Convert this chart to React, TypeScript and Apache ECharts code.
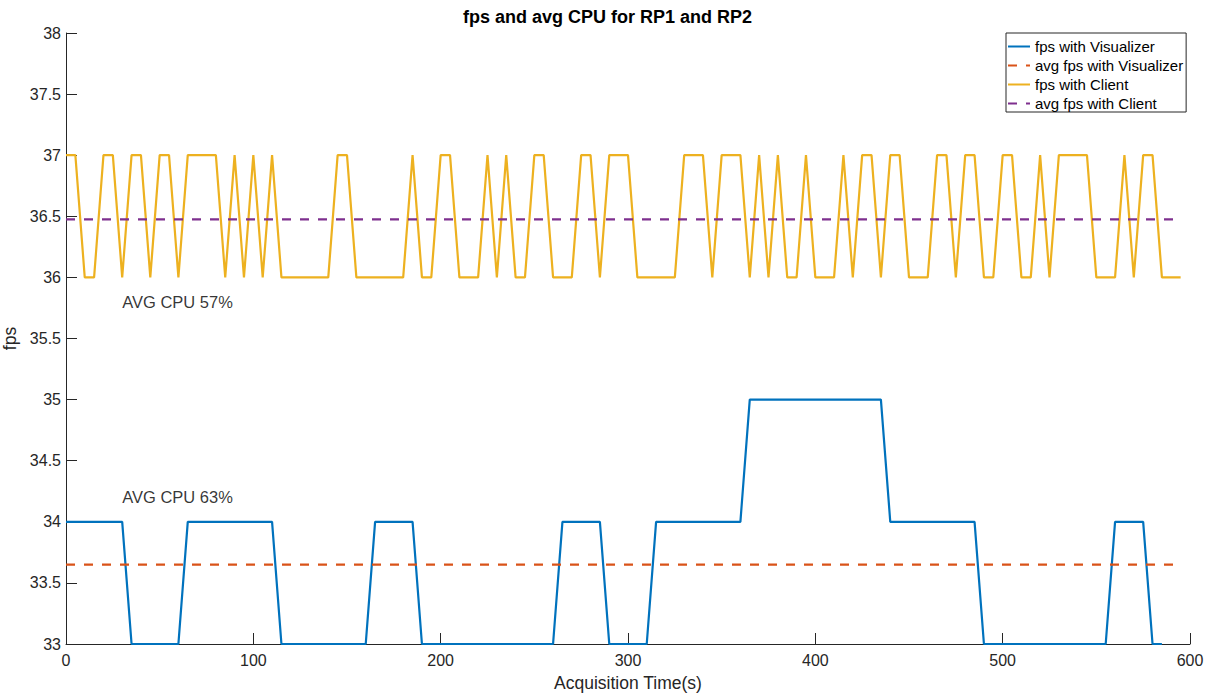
import React, { useEffect, useRef } from "react";
import * as echarts from "echarts";

// Sample times (s)
const timeSec = [
  0, 5, 10, 15, 20, 25, 30, 35, 40, 45, 50, 55,
  60, 65, 70, 75, 80, 85, 90, 95, 100, 105, 110, 115,
  120, 125, 130, 135, 140, 145, 150, 155, 160, 165, 170, 175,
  180, 185, 190, 195, 200, 205, 210, 215, 220, 225, 230, 235,
  240, 245, 250, 255, 260, 265, 270, 275, 280, 285, 290, 295,
  300, 305, 310, 315, 320, 325, 330, 335, 340, 345, 350, 355,
  360, 365, 370, 375, 380, 385, 390, 395, 400, 405, 410, 415,
  420, 425, 430, 435, 440, 445, 450, 455, 460, 465, 470, 475,
  480, 485, 490, 495, 500, 505, 510, 515, 520, 525, 530, 535,
  540, 545, 550, 555, 560, 565, 570, 575, 580, 585, 590, 595,
];

// fps with Visualizer (0 .. 585 s)
const fpsVisualizer = [
  34, 34, 34, 34, 34, 34, 34, 33, 33, 33, 33, 33,
  33, 34, 34, 34, 34, 34, 34, 34, 34, 34, 34, 33,
  33, 33, 33, 33, 33, 33, 33, 33, 33, 34, 34, 34,
  34, 34, 33, 33, 33, 33, 33, 33, 33, 33, 33, 33,
  33, 33, 33, 33, 33, 34, 34, 34, 34, 34, 33, 33,
  33, 33, 33, 34, 34, 34, 34, 34, 34, 34, 34, 34,
  34, 35, 35, 35, 35, 35, 35, 35, 35, 35, 35, 35,
  35, 35, 35, 35, 34, 34, 34, 34, 34, 34, 34, 34,
  34, 34, 33, 33, 33, 33, 33, 33, 33, 33, 33, 33,
  33, 33, 33, 33, 34, 34, 34, 34, 33, 33,
];

// fps with Client (0 .. 595 s)
const fpsClient = [
  37, 37, 36, 36, 37, 37, 36, 37, 37, 36, 37, 37,
  36, 37, 37, 37, 37, 36, 37, 36, 37, 36, 37, 36,
  36, 36, 36, 36, 36, 37, 37, 36, 36, 36, 36, 36,
  36, 37, 36, 36, 37, 37, 36, 36, 36, 37, 36, 37,
  36, 36, 37, 37, 36, 36, 36, 37, 37, 36, 37, 37,
  37, 36, 36, 36, 36, 36, 37, 37, 37, 36, 37, 37,
  37, 36, 37, 36, 37, 36, 36, 37, 36, 36, 36, 37,
  36, 37, 37, 36, 37, 37, 36, 36, 36, 37, 37, 36,
  37, 37, 36, 36, 37, 37, 36, 36, 37, 36, 37, 37,
  37, 37, 36, 36, 36, 37, 36, 37, 37, 36, 36, 36,
];

const avgVisualizer = 33.65;
const avgClient = 36.475;
const avgSpan = [0, 595];

const cpuNoteLabels = ["AVG CPU 57%", "AVG CPU 63%"];
const cpuNoteX = [30, 30];
const cpuNoteY = [35.8, 34.2];

const seriesNames = [
  "fps with Visualizer",
  "avg fps with Visualizer",
  "fps with Client",
  "avg fps with Client",
];

const FONT = "'Liberation Sans', Arial, Helvetica, sans-serif";
const AXIS_COLOR = "#262626";

export default function App() {
  const ref = useRef<HTMLDivElement>(null);

  useEffect(() => {
    if (!ref.current) return;
    const chart = echarts.init(ref.current, undefined, { renderer: "svg" });

    const visData = fpsVisualizer.map((v, i) => [timeSec[i], v]);
    const cliData = fpsClient.map((v, i) => [timeSec[i], v]);
    const avgVisData = avgSpan.map((t) => [t, avgVisualizer]);
    const avgCliData = avgSpan.map((t) => [t, avgClient]);
    const noteData = cpuNoteLabels.map((l, i) => ({
      name: l,
      value: [cpuNoteX[i], cpuNoteY[i]],
    }));

    chart.setOption({
      animation: false,
      backgroundColor: "#ffffff",
      title: {
        text: "fps and avg CPU for RP1 and RP2",
        left: "center",
        top: 3,
        textStyle: {
          fontFamily: FONT,
          fontSize: 18,
          fontWeight: "bold",
          color: "#000000",
        },
      },
      legend: {
        data: seriesNames,
        orient: "vertical",
        left: 1006,
        top: 33,
        itemWidth: 22,
        itemHeight: 14,
        itemGap: 4,
        padding: [6, 3, 1, 1],
        borderColor: AXIS_COLOR,
        borderWidth: 1,
        backgroundColor: "#ffffff",
        itemStyle: { opacity: 0 },
        textStyle: {
          fontFamily: FONT,
          fontSize: 15,
          lineHeight: 15,
          color: "#000000",
        },
      },
      grid: { left: 66, right: 25, top: 33, bottom: 52, outerBoundsMode: "none", containLabel: false },
      xAxis: {
        type: "value",
        min: 0,
        max: 600,
        interval: 100,
        name: "Acquisition Time(s)",
        nameLocation: "middle",
        nameGap: 30,
        nameTextStyle: { fontFamily: FONT, fontSize: 17.5, color: AXIS_COLOR },
        axisLine: { onZero: false, lineStyle: { color: AXIS_COLOR, width: 1 } },
        axisTick: { inside: true, length: 11, lineStyle: { color: AXIS_COLOR } },
        axisLabel: { fontFamily: FONT, fontSize: 16, color: AXIS_COLOR, margin: 8 },
        splitLine: { show: false },
      },
      yAxis: {
        type: "value",
        min: 33,
        max: 38,
        interval: 0.5,
        name: "fps",
        nameLocation: "middle",
        nameGap: 37,
        nameTextStyle: { fontFamily: FONT, fontSize: 17.5, color: AXIS_COLOR },
        axisLine: { show: true, onZero: false, lineStyle: { color: AXIS_COLOR, width: 1 } },
        axisTick: { show: true, inside: true, length: 11, lineStyle: { color: AXIS_COLOR } },
        axisLabel: { fontFamily: FONT, fontSize: 16, color: AXIS_COLOR, margin: 5 },
        splitLine: { show: false },
      },
      series: [
        {
          name: seriesNames[0],
          type: "line",
          data: visData,
          symbol: "none",
          lineStyle: { color: "#0072BD", width: 2.2 },
          itemStyle: { color: "#0072BD" },
        },
        {
          name: seriesNames[1],
          type: "line",
          data: avgVisData,
          symbol: "none",
          lineStyle: { color: "#D95319", width: 2.2, type: [9, 9] },
          itemStyle: { color: "#D95319" },
        },
        {
          name: seriesNames[2],
          type: "line",
          data: cliData,
          symbol: "none",
          lineStyle: { color: "#EDB120", width: 2.2 },
          itemStyle: { color: "#EDB120" },
        },
        {
          name: seriesNames[3],
          type: "line",
          data: avgCliData,
          symbol: "none",
          lineStyle: { color: "#7E2F8E", width: 2.2, type: [9, 9] },
          itemStyle: { color: "#7E2F8E" },
        },
        {
          name: "cpu-notes",
          type: "scatter",
          data: noteData,
          symbolSize: 0,
          silent: true,
          label: {
            show: true,
            position: "right",
            distance: 0,
            formatter: (p: any) => p.name,
            fontFamily: FONT,
            fontSize: 16.5,
            color: "#000000",
          },
        },
      ],
    });

    return () => chart.dispose();
  }, []);

  return (
    <div
      ref={ref}
      style={{ position: "fixed", left: 0, top: 0, width: 1215, height: 696 }}
    />
  );
}
